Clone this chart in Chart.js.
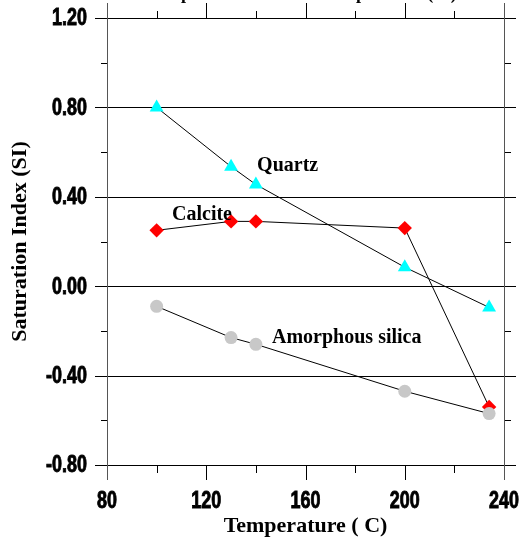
<!DOCTYPE html>
<html>
<head>
<meta charset="utf-8">
<script src="https://cdn.jsdelivr.net/npm/chart.js@4.4.0/dist/chart.umd.min.js"></script>
<style>
  html, body { margin: 0; padding: 0; background: #fff; }
</style>
</head>
<body>
<canvas id="siChart" width="526" height="540"></canvas>
<script>
// datos
const temps = [100, 130, 140, 200, 234];
const quartzSI = [0.80, 0.535, 0.455, 0.085, -0.095];
const calciteSI = [0.25, 0.29, 0.29, 0.26, -0.54];
const amorphousSI = [-0.09, -0.23, -0.26, -0.47, -0.57];

const xMajor = [80, 120, 160, 200, 240];
const xMinor = [100, 140, 180, 220];
const yMajor = [-0.8, -0.4, 0, 0.4, 0.8, 1.2];
const yMinor = [-0.6, -0.2, 0.2, 0.6, 1.0];

const seriesNames = ['Quartz', 'Calcite', 'Amorphous silica'];
// donde van los nombres de las series (unidades de datos)
const nameAt = [[140.5, 0.515], [106.2, 0.295], [146.5, -0.255]];

const titleText = 'Saturation index plot of minerals vs temperature ( C)';

const serif = '"Liberation Serif", "Times New Roman", serif';
const sans = '"Liberation Sans", Arial, sans-serif';

function toPoints(ys) {
    return temps.map((t, i) => ({ x: t, y: ys[i] }));
}

function seg(ctx, x1, y1, x2, y2) {
    ctx.beginPath();
    ctx.moveTo(x1, y1);
    ctx.lineTo(x2, y2);
    ctx.stroke();
}

// texto angosto y grueso (como Arial Narrow Bold), escalando en horizontal
function narrowText(ctx, txt, px, py, align) {
    ctx.save();
    ctx.translate(px, py);
    ctx.scale(0.78, 1);
    ctx.textAlign = align;
    ctx.lineWidth = 0.9;
    ctx.strokeStyle = '#000';
    ctx.fillText(txt, 0, 0);
    ctx.strokeText(txt, 0, 0);
    ctx.restore();
}

// marco, lineas de la grilla, marcas menores y etiquetas de los ejes
const framePlugin = {
    id: 'frame',
    beforeDatasetsDraw(chart) {
        const { ctx, chartArea: a, scales: { x, y } } = chart;
        ctx.save();
        ctx.lineWidth = 1;
        ctx.strokeStyle = '#000';
        yMajor.forEach(v => {
            const py = Math.round(y.getPixelForValue(v)) + 0.5;
            seg(ctx, a.left - 12, py, a.right + 12, py);
        });
        yMinor.forEach(v => {
            const py = Math.round(y.getPixelForValue(v)) + 0.5;
            seg(ctx, a.left - 6, py, a.left, py);
            seg(ctx, a.right, py, a.right + 7, py);
        });
        xMajor.forEach(v => {
            const px = Math.round(x.getPixelForValue(v)) + 0.5;
            if (v === xMajor[0] || v === xMajor[xMajor.length - 1]) {
                ctx.strokeStyle = '#555';
                seg(ctx, px, a.top - 15, px, a.bottom + 15);
                ctx.strokeStyle = '#000';
            } else {
                seg(ctx, px, a.top - 15, px, a.top);
                seg(ctx, px, a.bottom, px, a.bottom + 15);
            }
        });
        xMinor.forEach(v => {
            const px = Math.round(x.getPixelForValue(v)) + 0.5;
            seg(ctx, px, a.top - 7, px, a.top);
            seg(ctx, px, a.bottom, px, a.bottom + 8);
        });

        // etiquetas de los ticks
        ctx.fillStyle = '#000';
        ctx.font = 'bold 23px ' + sans;
        ctx.textBaseline = 'middle';
        y.ticks.forEach(t => {
            narrowText(ctx, Number(t.value).toFixed(2), a.left - 20, y.getPixelForValue(t.value) + 1, 'right');
        });
        ctx.textBaseline = 'alphabetic';
        x.ticks.forEach(t => {
            narrowText(ctx, String(t.value), x.getPixelForValue(t.value), a.bottom + 43, 'center');
        });
        ctx.restore();
    }
};

// nombres de las series y titulo cortado arriba
const textPlugin = {
    id: 'texts',
    afterDatasetsDraw(chart) {
        const { ctx, scales: { x, y } } = chart;
        ctx.save();
        ctx.fillStyle = '#000';
        ctx.font = 'bold 20px ' + serif;
        ctx.textAlign = 'left';
        ctx.textBaseline = 'alphabetic';
        seriesNames.forEach((name, i) => {
            ctx.fillText(name, x.getPixelForValue(nameAt[i][0]), y.getPixelForValue(nameAt[i][1]));
        });
        ctx.font = 'bold 18px ' + serif;
        ctx.fillText(titleText, 48, -1);
        ctx.restore();
    }
};

const ctx = document.getElementById('siChart').getContext('2d');
const chart = new Chart(ctx, {
    type: 'scatter',
    data: {
        datasets: [{
            label: seriesNames[0],
            data: toPoints(quartzSI),
            showLine: true,
            borderColor: '#000',
            borderWidth: 1,
            pointStyle: 'triangle',
            pointRadius: 8,
            pointBackgroundColor: '#00ffff',
            pointBorderWidth: 0,
            order: 3
        }, {
            label: seriesNames[1],
            data: toPoints(calciteSI),
            showLine: true,
            borderColor: '#000',
            borderWidth: 1,
            pointStyle: 'rectRot',
            pointRadius: 7.2,
            pointBackgroundColor: '#ff0000',
            pointBorderWidth: 0,
            order: 2
        }, {
            label: seriesNames[2],
            data: toPoints(amorphousSI),
            showLine: true,
            borderColor: '#000',
            borderWidth: 1,
            pointStyle: 'circle',
            pointRadius: 6.5,
            pointBackgroundColor: '#c8c8c8',
            pointBorderWidth: 0,
            order: 1
        }]
    },
    options: {
        responsive: false,
        animation: false,
        devicePixelRatio: 1,
        layout: { padding: { left: 0, right: 22, top: 18, bottom: 0 } },
        plugins: { legend: { display: false }, tooltip: { enabled: false } },
        scales: {
            x: {
                type: 'linear',
                min: 80, max: 240,
                afterFit: s => { s.height = 75; s.paddingLeft = 0; s.paddingRight = 0; },
                grid: { display: false, drawTicks: false },
                border: { display: false },
                ticks: { stepSize: 40, display: false },
                title: {
                    display: true,
                    text: 'Temperature ( C)',
                    color: '#000',
                    padding: { top: 0, bottom: 0 },
                    font: { family: serif, size: 22, weight: 'bold' }
                }
            },
            y: {
                type: 'linear',
                min: -0.8, max: 1.2,
                afterFit: s => { s.width = 107; s.paddingTop = 0; s.paddingBottom = 0; },
                grid: { display: false, drawTicks: false },
                border: { display: false },
                ticks: { stepSize: 0.4, display: false },
                title: {
                    display: true,
                    text: 'Saturation Index (SI)',
                    color: '#000',
                    padding: { top: 7, bottom: 0 },
                    font: { family: serif, size: 22, weight: 'bold' }
                }
            }
        }
    },
    plugins: [framePlugin, textPlugin]
});
</script>
</body>
</html>
